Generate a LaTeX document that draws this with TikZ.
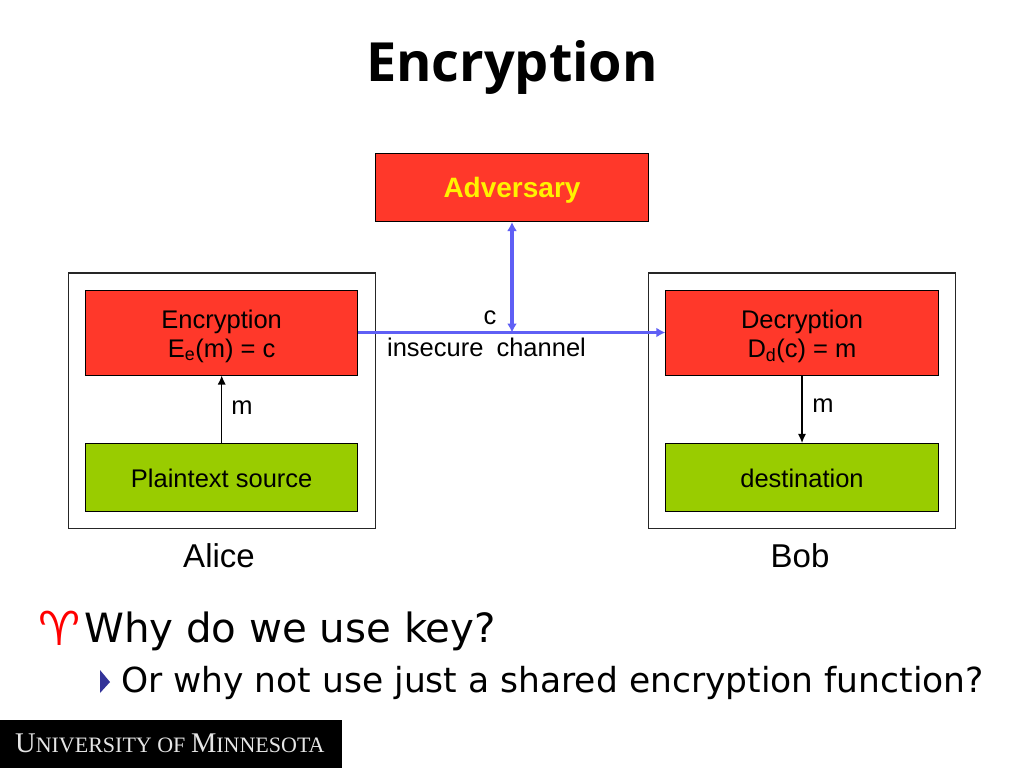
\documentclass[tikz,border=0pt]{standalone}
\usepackage{fontspec}
\setmainfont{Liberation Sans}
\newfontfamily\titlefont{Open Sans}
\newfontfamily\bodyfont{DejaVu Sans}
\newfontfamily\logofont{Liberation Serif}
\newcommand{\fs}[1]{\fontsize{#1}{#1}\selectfont}
\definecolor{redbox}{RGB}{255,56,42}
\definecolor{greenbox}{RGB}{153,204,0}
\definecolor{chan}{RGB}{95,95,245}
\definecolor{tri}{RGB}{51,51,153}
\usetikzlibrary{arrows.meta}
\tikzset{
 x=1pt,y=-1pt,
 box/.style={draw=black,line width=1pt,minimum width=272.5pt,inner sep=0pt,align=center,text=black},
 redb/.style={box,fill=redbox,font=\fs{25.5}},
 greenb/.style={box,fill=greenbox,minimum height=68.5pt,font=\fs{25.5}},
 frameb/.style={draw=black!85,line width=1.1pt,fill=white,minimum width=307pt,minimum height=255.5pt,inner sep=0pt},
 lab/.style={inner sep=0pt,text=black,font=\fs{25.5}},
 big/.style={inner sep=0pt,text=black,font=\fs{33}},
 chanline/.style={draw=chan,line width=3.4pt},
 blk/.style={draw=black,line width=1.1pt,-{Latex[length=9pt,width=8pt]}},
}
\begin{document}
\begin{tikzpicture}
\useasboundingbox (0,0) rectangle (1024,768);
\fill[white] (0,0) rectangle (1024,768);
\node[inner sep=0pt,font=\titlefont\bfseries\fs{54}] (title) at (512,67) {Encryption};
\node[frameb] (alice) at (222,400.7) {};
\node[frameb] (bob) at (802,400.7) {};
\node[redb,minimum height=68pt,text=yellow,font=\bfseries\fs{28}] (adv) at (512,187.5) {\rule{0pt}{26pt}Adversary};
\node[redb,minimum height=85pt] (enc) at (221.7,332.5) {\rule{0pt}{25.5pt}Encryption\\[3.5pt]E\textsubscript{e}(m) = c};
\node[redb,minimum height=85pt] (dec) at (802,332.5) {\rule{0pt}{25.5pt}Decryption\\[3.5pt]D\textsubscript{d}(c) = m};
\node[greenb] (src) at (221.7,477.7) {\rule{0pt}{20pt}Plaintext source};
\node[greenb] (dst) at (802,477.7) {\rule{0pt}{20pt}destination};
\coordinate (junction) at (adv.south |- enc.east);
\draw[chanline,-{Latex[length=9pt,width=10pt]}] (enc.east) -- (dec.west);
\draw[chanline,{Latex[length=9pt,width=10pt]}-{Latex[length=9pt,width=10pt]}] (adv.south) -- (junction);
\draw[blk] (src.north) -- (enc.south);
\draw[blk] (dec.south) -- (dst.north);
\node[lab] (c) at (490,318) {c};
\node[lab] (ins) at (486.5,347) {insecure\hspace{6pt} channel};
\node[lab] (m1) at (242,408) {m};
\node[lab] (m2) at (823,406) {m};
\node[big] (al) at (219,556) {Alice};
\node[big] (bo) at (800,556) {Bob};
\node[anchor=base west,inner sep=0pt,text=red,font=\bodyfont\fs{47}] (bul) at (38,645) {♈};
\node[anchor=base west,inner sep=0pt,text=black,font=\bodyfont\fs{40.3}] (q1) at (84,642) {Why do we use key?};
\fill[tri] (100,670) -- (110,682) -- (100,693) -- cycle;
\node[anchor=base west,inner sep=0pt,text=black,font=\bodyfont\fs{34.5}] (q2) at (121,692) {Or why not use just a shared encryption function?};
\fill[black] (0,720) rectangle (342,768);
\node[anchor=base west,inner sep=0pt,text=white!90!black,font=\logofont] (logo) at (15,752) {\fs{28.5}U\fs{22}NIVERSITY OF \fs{28.5}M\fs{22}INNESOTA};
\end{tikzpicture}
\end{document}
